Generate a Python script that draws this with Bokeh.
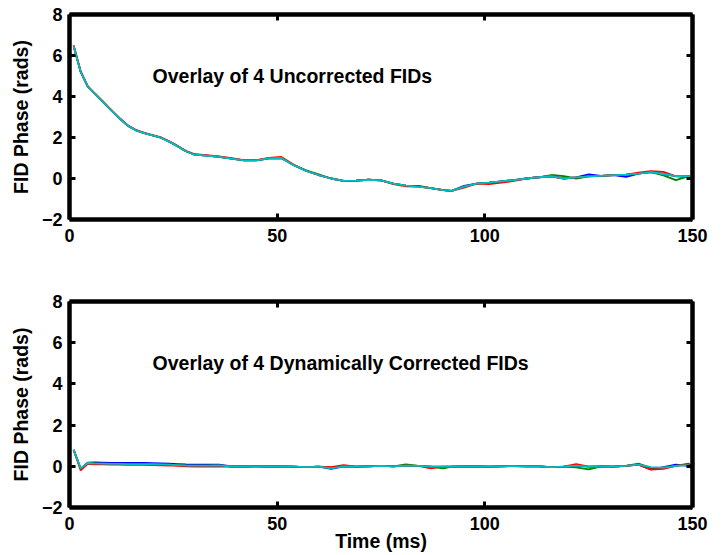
from bokeh.plotting import figure
from bokeh.models import Range1d, FixedTicker, LinearAxis, Label
from bokeh.layouts import column
from bokeh.embed import file_html
from bokeh.resources import INLINE

# ---------------- data ----------------
time_ms = [1, 2.7, 4.4, 6, 8, 10, 12, 14, 16, 18, 20, 22, 24, 26, 28, 30,
           33, 36, 39, 42, 45, 48, 51, 54, 57, 60, 63, 66, 69, 72, 75, 78,
           81, 84, 87, 90, 92, 95, 98, 101, 104, 107, 110, 113, 116, 119,
           122, 125, 128, 131, 134, 137, 140, 143, 146, 149, 150]

# Uncorrected FID phase (rads)
unc_blue = [6.45, 5.2, 4.48, 4.15, 3.75, 3.34, 2.94, 2.58, 2.35, 2.21, 2.1, 1.99, 1.8, 1.58, 1.33, 1.17,
            1.12, 1.06, 0.97, 0.88, 0.88, 0.98, 1.0, 0.65, 0.37, 0.17, 0.0, -0.12, -0.1, -0.06, -0.09, -0.25,
            -0.35, -0.36, -0.47, -0.57, -0.6, -0.36, -0.25, -0.2, -0.14, -0.08, 0.0, 0.06, 0.11, 0.0,
            0.05, 0.2, 0.13, 0.16, 0.08, 0.24, 0.31, 0.22, 0.12, 0.06, 0.05]
unc_green = [6.45, 5.2, 4.48, 4.15, 3.75, 3.34, 2.94, 2.58, 2.35, 2.21, 2.1, 1.99, 1.8, 1.58, 1.33, 1.17,
             1.12, 1.06, 0.97, 0.88, 0.88, 0.98, 1.0, 0.65, 0.4, 0.2, 0.0, -0.12, -0.1, -0.06, -0.09, -0.25,
             -0.35, -0.4, -0.47, -0.57, -0.6, -0.4, -0.25, -0.2, -0.14, -0.08, 0.0, 0.06, 0.17, 0.12,
             0.0, 0.1, 0.13, 0.16, 0.19, 0.24, 0.31, 0.15, -0.08, 0.1, 0.05]
unc_red = [6.5, 5.22, 4.5, 4.17, 3.77, 3.36, 2.96, 2.6, 2.37, 2.23, 2.12, 2.01, 1.82, 1.6, 1.35, 1.19,
           1.14, 1.08, 0.99, 0.9, 0.9, 1.0, 1.05, 0.67, 0.37, 0.17, 0.0, -0.12, -0.1, -0.06, -0.09, -0.27,
           -0.38, -0.4, -0.47, -0.57, -0.6, -0.45, -0.25, -0.27, -0.2, -0.12, 0.0, 0.06, 0.11, 0.0,
           0.05, 0.1, 0.13, 0.16, 0.19, 0.28, 0.36, 0.32, 0.1, 0.13, 0.05]
unc_cyan = [6.45, 5.2, 4.48, 4.15, 3.75, 3.34, 2.94, 2.58, 2.35, 2.21, 2.1, 1.99, 1.8, 1.58, 1.33, 1.17,
            1.12, 1.06, 0.97, 0.88, 0.88, 0.98, 1.0, 0.65, 0.37, 0.17, 0.0, -0.12, -0.1, -0.06, -0.09, -0.25,
            -0.35, -0.4, -0.47, -0.57, -0.6, -0.4, -0.25, -0.2, -0.14, -0.08, 0.0, 0.06, 0.11, 0.0,
            0.05, 0.1, 0.13, 0.16, 0.19, 0.24, 0.31, 0.22, 0.12, 0.11, 0.05]

# Dynamically corrected FID phase (rads)
cor_blue = [0.8, -0.12, 0.18, 0.19, 0.18, 0.17, 0.17, 0.16, 0.16, 0.16, 0.15, 0.14, 0.13, 0.11, 0.09, 0.08,
            0.08, 0.08, -0.01, -0.01, 0.0, -0.01, 0.0, -0.02, -0.04, -0.02, -0.12, 0.0, -0.02, 0.0, 0.02, 0.0,
            0.03, 0.02, -0.02, -0.02, -0.02, 0.0, -0.01, -0.02, 0.0, 0.01, 0.0, 0.0, -0.04, -0.02,
            0.03, -0.02, 0.0, -0.02, 0.02, 0.08, -0.15, -0.04, 0.08, 0.02, -0.04]
cor_green = [0.8, -0.12, 0.16, 0.14, 0.13, 0.12, 0.12, 0.11, 0.11, 0.11, 0.1, 0.09, 0.08, 0.06, 0.04, 0.03,
             0.03, 0.04, -0.01, -0.01, 0.0, -0.01, 0.0, -0.02, -0.04, -0.02, -0.06, 0.0, -0.02, 0.0, 0.02, 0.0,
             0.09, 0.02, -0.02, -0.1, -0.02, 0.0, -0.01, -0.02, 0.0, 0.01, 0.0, 0.0, -0.04, -0.02,
             -0.05, -0.15, 0.0, -0.02, 0.02, 0.13, -0.08, -0.06, 0.02, 0.13, 0.0]
cor_red = [0.8, -0.2, 0.12, 0.1, 0.09, 0.08, 0.08, 0.07, 0.07, 0.07, 0.06, 0.05, 0.04, 0.02, 0.0, -0.01,
           -0.01, 0.0, -0.01, -0.01, 0.0, -0.01, 0.0, -0.02, -0.04, -0.02, -0.04, 0.06, -0.02, 0.0, 0.02, 0.0,
           0.03, 0.02, -0.1, -0.02, -0.02, 0.0, -0.01, -0.02, 0.0, 0.01, 0.0, 0.0, -0.04, -0.02,
           0.1, -0.02, 0.0, -0.02, 0.02, 0.08, -0.16, -0.12, 0.02, 0.08, -0.04]
cor_cyan = [0.8, -0.1, 0.16, 0.14, 0.13, 0.12, 0.12, 0.11, 0.11, 0.11, 0.1, 0.09, 0.08, 0.06, 0.04, 0.03,
            0.03, 0.04, -0.01, -0.01, 0.0, -0.01, 0.0, -0.02, -0.04, -0.02, -0.1, 0.0, -0.02, 0.0, 0.02, 0.0,
            0.03, 0.02, -0.02, -0.02, -0.02, 0.0, -0.01, -0.02, 0.0, 0.01, 0.0, 0.0, -0.04, -0.02,
            0.03, -0.02, 0.0, -0.02, 0.02, 0.08, -0.04, -0.06, 0.02, 0.06, -0.16]

x_ticks = [0, 50, 100, 150]
y_ticks = [-2, 0, 2, 4, 6, 8]
colors = ["#0000FF", "#008000", "#FF0000", "#00BFBF"]

FONT = "Liberation Sans"
TICK_FS = "18px"
LABEL_FS = "19.5px"


def style_axis(ax, ticks):
    ax.ticker = FixedTicker(ticks=ticks)
    ax.axis_line_color = "black"
    ax.axis_line_width = 4.5
    ax.major_tick_in = 6
    ax.major_tick_out = 0
    ax.major_tick_line_width = 3
    ax.major_tick_line_color = "black"
    ax.minor_tick_line_color = None


def make_panel(series, note, height, top, bottom, xlabel=None):
    p = figure(width=720, height=height, output_backend="svg", toolbar_location=None,
               x_range=Range1d(0, 150), y_range=Range1d(-2, 8),
               min_border_left=69, min_border_right=28,
               min_border_top=top, min_border_bottom=bottom)
    p.grid.visible = False
    p.outline_line_color = None
    p.background_fill_color = "white"
    p.border_fill_color = "white"

    for ys, c in zip(series, colors):
        p.line(time_ms, ys, line_color=c, line_width=1.8)

    for ax, ticks in ((p.xaxis[0], x_ticks), (p.yaxis[0], y_ticks)):
        style_axis(ax, ticks)
        ax.major_label_text_font = FONT
        ax.major_label_text_font_style = "bold"
        ax.major_label_text_font_size = TICK_FS
        ax.major_label_text_color = "black"
        ax.axis_label_text_font = FONT
        ax.axis_label_text_font_style = "bold"
        ax.axis_label_text_font_size = LABEL_FS
        ax.axis_label_text_color = "black"
    p.yaxis[0].major_label_overrides = {-2: "\u22122"}
    p.yaxis[0].major_label_standoff = 7
    p.yaxis[0].axis_label = "FID Phase (rads)"
    p.yaxis[0].axis_label_standoff = 7
    p.xaxis[0].major_label_standoff = 9
    if xlabel:
        p.xaxis[0].axis_label = xlabel
        p.xaxis[0].axis_label_standoff = -3

    # mirrored box sides with inward ticks on top and right
    for loc, ticks in (("above", x_ticks), ("right", y_ticks)):
        ax = LinearAxis()
        style_axis(ax, ticks)
        ax.major_label_text_font_size = "1px"
        ax.major_label_text_color = None
        ax.major_label_standoff = 0
        p.add_layout(ax, loc)

    p.add_layout(Label(x=20, y=5, text=note, text_baseline="middle", text_align="left",
                       text_font=FONT, text_font_style="bold", text_font_size=LABEL_FS,
                       text_color="black"))
    return p


p1 = make_panel([unc_blue, unc_green, unc_red, unc_cyan],
                "Overlay of 4 Uncorrected FIDs", 258, 14, 39)
p2 = make_panel([cor_blue, cor_green, cor_red, cor_cyan],
                "Overlay of 4 Dynamically Corrected FIDs", 296, 43, 47, xlabel="Time (ms)")

layout = column(p1, p2, spacing=0)
open("out.html", "w").write(file_html(layout, INLINE))
